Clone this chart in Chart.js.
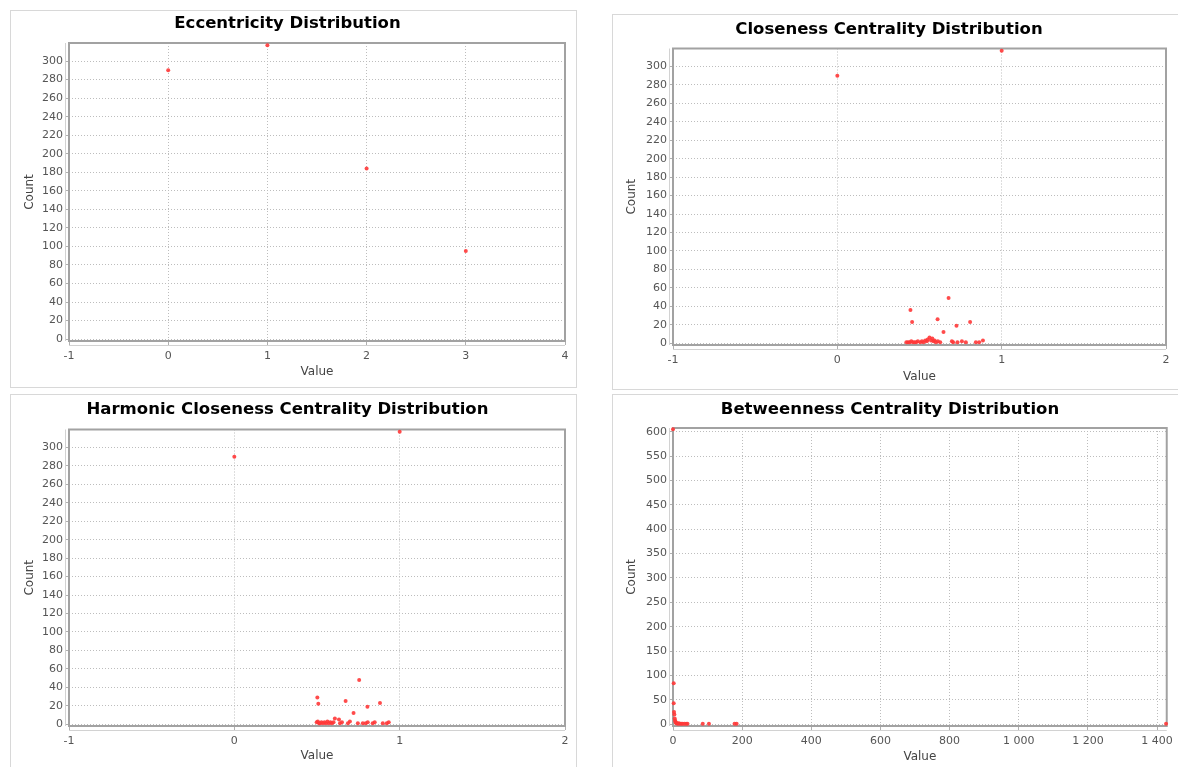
<!DOCTYPE html>
<html><head><meta charset="utf-8">
<script src="https://cdn.jsdelivr.net/npm/chart.js@4.4.1/dist/chart.umd.min.js"></script>
<style>
html,body{margin:0;padding:0;background:#fff;width:1178px;height:767px;overflow:hidden;position:relative;}
.box{position:absolute;box-sizing:border-box;border:1px solid #d8d8d8;}
canvas{position:absolute;}
</style></head><body>
<div class="box" style="left:10px;top:10px;width:567px;height:378px"></div>
<div class="box" style="left:612px;top:14px;width:568px;height:376px"></div>
<div class="box" style="left:10px;top:394px;width:567px;height:375px"></div>
<div class="box" style="left:612px;top:394px;width:568px;height:375px"></div>
<canvas id="c1" width="567" height="378" style="left:10px;top:10px"></canvas>
<canvas id="c2" width="566" height="376" style="left:612px;top:14px"></canvas>
<canvas id="c3" width="567" height="373" style="left:10px;top:394px"></canvas>
<canvas id="c4" width="566" height="373" style="left:612px;top:394px"></canvas>
<script>
// ---------- data ----------
const eccTitle = 'Eccentricity Distribution';
const eccValues = [0, 1, 2, 3];
const eccCounts = [290, 317, 184, 95];
const eccValueTicks = [-1, 0, 1, 2, 3, 4];

const closeTitle = 'Closeness Centrality Distribution';
const closeValues = [0, 1, 0.445, 0.455, 0.677, 0.61, 0.725, 0.808, 0.646,
  0.42, 0.43, 0.44, 0.45, 0.46, 0.47, 0.48, 0.49, 0.505, 0.515, 0.525, 0.535, 0.545, 0.55,
  0.561, 0.57, 0.578, 0.585, 0.592, 0.6, 0.612, 0.626, 0.697, 0.705, 0.731, 0.758, 0.782,
  0.843, 0.863, 0.886];
const closeCounts = [290, 317, 36, 23, 49, 26, 19, 23, 12,
  1, 1, 1, 2, 1, 1, 1, 2, 1, 2, 1, 3, 2, 4,
  6, 3, 5, 2, 3, 1, 2, 1, 2, 1, 1, 2, 1,
  1, 1, 3];
const closeValueTicks = [-1, 0, 1, 2];

const harmTitle = 'Harmonic Closeness Centrality Distribution';
const harmValues = [0, 1, 0.502, 0.508, 0.755, 0.673, 0.805, 0.881, 0.721, 0.608, 0.633,
  0.498, 0.505, 0.512, 0.518, 0.527, 0.536, 0.545, 0.554, 0.563, 0.572, 0.581, 0.59, 0.6,
  0.639, 0.651, 0.687, 0.699, 0.747, 0.777, 0.795, 0.807, 0.837, 0.849, 0.898, 0.922, 0.934];
const harmCounts = [290, 317, 29, 22, 48, 25, 19, 23, 12, 6, 5,
  2, 3, 1, 1, 2, 1, 2, 1, 3, 1, 2, 1, 2,
  1, 2, 1, 3, 1, 1, 1, 2, 1, 2, 1, 1, 2];
const harmValueTicks = [-1, 0, 1, 2];

const countTicks = [0, 20, 40, 60, 80, 100, 120, 140, 160, 180, 200, 220, 240, 260, 280, 300];

const betwTitle = 'Betweenness Centrality Distribution';
const betwValues = [0, 2, 2, 3, 4, 5, 6, 7, 8, 10, 12, 14, 17, 20, 24, 28, 33, 38, 42, 86, 104, 178, 184, 1426];
const betwCounts = [605, 84, 43, 25, 20, 12, 8, 5, 3, 2, 2, 1, 2, 1, 1, 1, 1, 1, 1, 1, 1, 1, 1, 1];
const betwValueTicks = [0, 200, 400, 600, 800, 1000, 1200, 1400];
const betwValueLabels = ['0', '200', '400', '600', '800', '1 000', '1 200', '1 400'];
const betwCountTicks = [0, 50, 100, 150, 200, 250, 300, 350, 400, 450, 500, 550, 600];

// ---------- styling / drawing ----------
const FONT = 'DejaVu Sans';
const framePlugin = {
  id: 'frame',
  beforeDatasetsDraw(chart) {
    const a = chart.chartArea, ctx = chart.ctx;
    ctx.save();
    ctx.strokeStyle = '#d2d2d2'; ctx.lineWidth = 1;
    ctx.beginPath();
    ctx.moveTo(a.left, a.bottom + 4.5); ctx.lineTo(a.right, a.bottom + 4.5);
    ctx.moveTo(a.left - 3.5, a.top); ctx.lineTo(a.left - 3.5, a.bottom);
    ctx.stroke();
    ctx.strokeStyle = '#a2a2a2'; ctx.lineWidth = 2;
    ctx.strokeRect(a.left, a.top, a.right - a.left, a.bottom - a.top);
    ctx.restore();
  }
};

function makeChart(id, title, xs, ys, xTicks, xLabels, yTicks, lay) {
  const pts = xs.map((x, i) => ({x: x, y: ys[i]}));
  return new Chart(document.getElementById(id), {
    type: 'scatter',
    data: {datasets: [{data: pts, backgroundColor: 'rgba(255,55,55,0.9)', borderWidth: 0,
      pointRadius: 2, pointHoverRadius: 2, clip: false}]},
    options: {
      responsive: false, animation: false, devicePixelRatio: 1,
      events: [],
      layout: {padding: {top: 0, left: 0, bottom: 0, right: lay.padR}},
      plugins: {
        legend: {display: false}, tooltip: {enabled: false},
        title: {display: true, text: title, color: '#000',
          font: {family: FONT, weight: 'bold', size: 16.5, lineHeight: 1.2},
          padding: {top: lay.tTop, bottom: lay.tBot}}
      },
      scales: {
        x: {
          type: 'linear', min: lay.xMin, max: lay.xMax,
          afterBuildTicks: ax => { ax.ticks = xTicks.map(v => ({value: v})); },
          afterFit: ax => { ax.height = lay.xH; },
          ticks: {color: '#555', font: {family: FONT, size: 11}, padding: 5, maxRotation: 0,
            autoSkip: false,
            callback: v => { const i = xTicks.indexOf(v); return i >= 0 ? xLabels[i] : ''; }},
          grid: {color: '#bdbdbd', lineWidth: 1, drawTicks: true, tickLength: 4,
            tickColor: '#b0b0b0', tickBorderDash: []},
          border: {display: false, dash: [1, 2]},
          title: {display: true, text: 'Value', color: '#444',
            font: {family: FONT, size: 12, lineHeight: 1.2}, padding: {top: 0, bottom: lay.vPad}}
        },
        y: {
          type: 'linear', min: lay.yMin, max: lay.yMax,
          afterBuildTicks: ax => { ax.ticks = yTicks.map(v => ({value: v})); },
          afterFit: ax => { ax.width = lay.yW; },
          ticks: {color: '#555', font: {family: FONT, size: 11}, padding: 2, autoSkip: false},
          grid: {color: '#bdbdbd', lineWidth: 1, drawTicks: true, tickLength: 4,
            tickColor: '#b0b0b0', tickBorderDash: []},
          border: {display: false, dash: [1, 2]},
          title: {display: true, text: 'Count', color: '#444',
            font: {family: FONT, size: 12, lineHeight: 1.2}, padding: {top: 12.8, bottom: 0}}
        }
      }
    },
    plugins: [framePlugin]
  });
}

makeChart('c1', eccTitle, eccValues, eccCounts, eccValueTicks, eccValueTicks.map(String), countTicks,
  {padR: 12, tTop: 4.1, tBot: 9.1, xH: 47, yW: 59, vPad: 8.8, xMin: -1, xMax: 4, yMin: -2, yMax: 319.5});
makeChart('c2', closeTitle, closeValues, closeCounts, closeValueTicks, closeValueTicks.map(String), countTicks,
  {padR: 12, tTop: 6.1, tBot: 8.6, xH: 45, yW: 61, vPad: 5.8, xMin: -1, xMax: 2, yMin: -2, yMax: 319.5});
makeChart('c3', harmTitle, harmValues, harmCounts, harmValueTicks, harmValueTicks.map(String), countTicks,
  {padR: 12, tTop: 6.1, tBot: 9.6, xH: 41, yW: 59, vPad: 3.8, xMin: -1, xMax: 2, yMin: -2, yMax: 319.5});
makeChart('c4', betwTitle, betwValues, betwCounts, betwValueTicks, betwValueLabels, betwCountTicks,
  {padR: 10, tTop: 6.1, tBot: 8.1, xH: 41, yW: 61, vPad: 2.8, xMin: 0, xMax: 1428, yMin: -3.5, yMax: 607.5});
</script>
</body></html>
